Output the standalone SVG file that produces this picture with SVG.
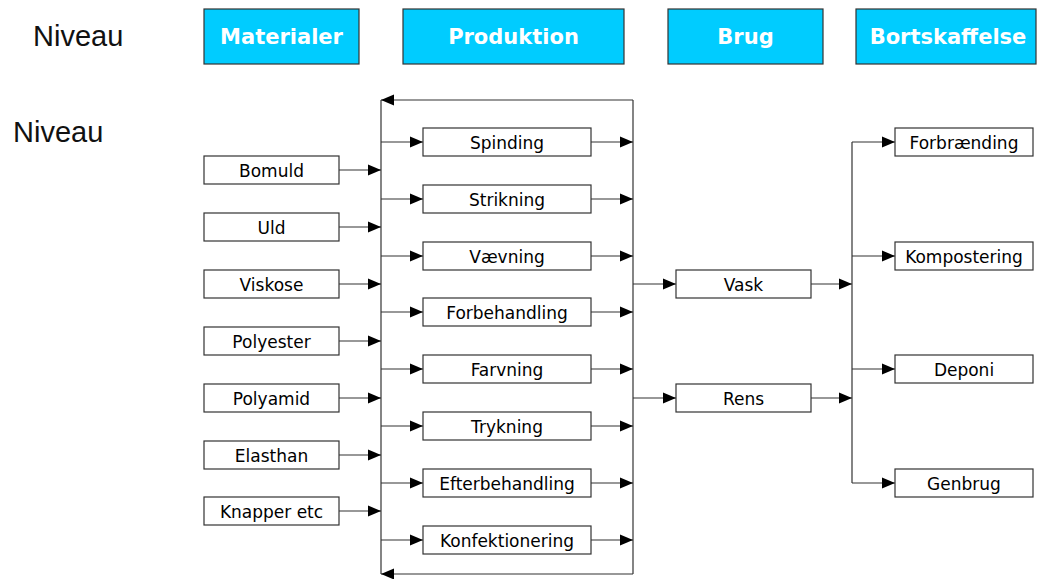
<svg xmlns="http://www.w3.org/2000/svg" width="1037" height="579" viewBox="0 0 1037 579">
<defs>
<marker id="ah" markerUnits="userSpaceOnUse" markerWidth="13" markerHeight="12" viewBox="0 0 13 12" refX="13" refY="6" orient="auto">
<path d="M0,0.5 L13,6 L0,11.5 Z" fill="#000"/>
</marker>
<style>
.hdr rect{fill:#00CCFF;stroke:#333;stroke-width:1.2}
.hdr text{font-family:"DejaVu Sans",sans-serif;font-weight:bold;font-size:21px;fill:#fff;text-anchor:middle}
.box rect{fill:#fff;stroke:#333;stroke-width:1.2}
.box text{font-family:"DejaVu Sans",sans-serif;font-size:17px;fill:#000;text-anchor:middle}
.lvl{font-family:"Liberation Sans",Arial,sans-serif;font-size:29px;fill:#111}
.c line,.c path{stroke:#333;stroke-width:1.2;fill:none}
.c .a{marker-end:url(#ah)}
</style>
</defs>
<text class="lvl" x="33" y="46">Niveau</text>
<text class="lvl" x="13" y="142">Niveau</text>
<g id="h-materialer" class="hdr"><rect x="204" y="9" width="155" height="55"/><text x="281.5" y="44">Materialer</text></g>
<g id="h-produktion" class="hdr"><rect x="403" y="9" width="221" height="55"/><text x="513.5" y="44">Produktion</text></g>
<g id="h-brug" class="hdr"><rect x="668" y="9" width="155" height="55"/><text x="745.5" y="44">Brug</text></g>
<g id="h-bortskaffelse" class="hdr"><rect x="856" y="9" width="180" height="55"/><text x="948" y="44">Bortskaffelse</text></g>
<g class="c" id="connectors">
<line x1="633" y1="100" x2="633" y2="574"/>
<line x1="381" y1="100" x2="381" y2="574"/>
<line class="a" x1="633" y1="100" x2="381" y2="100"/>
<line class="a" x1="633" y1="574" x2="381" y2="574"/>
<line class="a" x1="339" y1="170" x2="381" y2="170"/>
<line class="a" x1="339" y1="227" x2="381" y2="227"/>
<line class="a" x1="339" y1="284" x2="381" y2="284"/>
<line class="a" x1="339" y1="341" x2="381" y2="341"/>
<line class="a" x1="339" y1="398" x2="381" y2="398"/>
<line class="a" x1="339" y1="455" x2="381" y2="455"/>
<line class="a" x1="339" y1="511" x2="381" y2="511"/>
<line class="a" x1="381" y1="142" x2="423" y2="142"/>
<line class="a" x1="381" y1="199" x2="423" y2="199"/>
<line class="a" x1="381" y1="256" x2="423" y2="256"/>
<line class="a" x1="381" y1="312" x2="423" y2="312"/>
<line class="a" x1="381" y1="369" x2="423" y2="369"/>
<line class="a" x1="381" y1="426" x2="423" y2="426"/>
<line class="a" x1="381" y1="483" x2="423" y2="483"/>
<line class="a" x1="381" y1="540" x2="423" y2="540"/>
<line class="a" x1="591" y1="142" x2="633" y2="142"/>
<line class="a" x1="591" y1="199" x2="633" y2="199"/>
<line class="a" x1="591" y1="256" x2="633" y2="256"/>
<line class="a" x1="591" y1="312" x2="633" y2="312"/>
<line class="a" x1="591" y1="369" x2="633" y2="369"/>
<line class="a" x1="591" y1="426" x2="633" y2="426"/>
<line class="a" x1="591" y1="483" x2="633" y2="483"/>
<line class="a" x1="591" y1="540" x2="633" y2="540"/>
<line class="a" x1="633" y1="284" x2="676" y2="284"/>
<line class="a" x1="633" y1="398" x2="676" y2="398"/>
<line class="a" x1="811" y1="284" x2="852" y2="284"/>
<line class="a" x1="811" y1="398" x2="852" y2="398"/>
<line x1="852" y1="142" x2="852" y2="483"/>
<line class="a" x1="852" y1="142" x2="895" y2="142"/>
<line class="a" x1="852" y1="256" x2="895" y2="256"/>
<line class="a" x1="852" y1="369" x2="895" y2="369"/>
<line class="a" x1="852" y1="483" x2="895" y2="483"/>
</g>
<g id="bomuld" class="box"><rect x="204" y="156" width="135" height="28"/><text x="271.5" y="177">Bomuld</text></g>
<g id="uld" class="box"><rect x="204" y="213" width="135" height="28"/><text x="271.5" y="234">Uld</text></g>
<g id="viskose" class="box"><rect x="204" y="270" width="135" height="28"/><text x="271.5" y="291">Viskose</text></g>
<g id="polyester" class="box"><rect x="204" y="327" width="135" height="28"/><text x="271.5" y="348">Polyester</text></g>
<g id="polyamid" class="box"><rect x="204" y="384" width="135" height="28"/><text x="271.5" y="405">Polyamid</text></g>
<g id="elasthan" class="box"><rect x="204" y="441" width="135" height="28"/><text x="271.5" y="462">Elasthan</text></g>
<g id="knapper" class="box"><rect x="204" y="497" width="135" height="28"/><text x="271.5" y="518">Knapper etc</text></g>
<g id="spinding" class="box"><rect x="423" y="128" width="168" height="28"/><text x="507" y="149">Spinding</text></g>
<g id="strikning" class="box"><rect x="423" y="185" width="168" height="28"/><text x="507" y="206">Strikning</text></g>
<g id="vaevning" class="box"><rect x="423" y="242" width="168" height="28"/><text x="507" y="263">Vævning</text></g>
<g id="forbehandling" class="box"><rect x="423" y="298" width="168" height="28"/><text x="507" y="319">Forbehandling</text></g>
<g id="farvning" class="box"><rect x="423" y="355" width="168" height="28"/><text x="507" y="376">Farvning</text></g>
<g id="trykning" class="box"><rect x="423" y="412" width="168" height="28"/><text x="507" y="433">Trykning</text></g>
<g id="efterbehandling" class="box"><rect x="423" y="469" width="168" height="28"/><text x="507" y="490">Efterbehandling</text></g>
<g id="konfektionering" class="box"><rect x="423" y="526" width="168" height="28"/><text x="507" y="547">Konfektionering</text></g>
<g id="vask" class="box"><rect x="676" y="270" width="135" height="28"/><text x="743.5" y="291">Vask</text></g>
<g id="rens" class="box"><rect x="676" y="384" width="135" height="28"/><text x="743.5" y="405">Rens</text></g>
<g id="forbraending" class="box"><rect x="895" y="128" width="138" height="28"/><text x="964" y="149">Forbrænding</text></g>
<g id="kompostering" class="box"><rect x="895" y="242" width="138" height="28"/><text x="964" y="263">Kompostering</text></g>
<g id="deponi" class="box"><rect x="895" y="355" width="138" height="28"/><text x="964" y="376">Deponi</text></g>
<g id="genbrug" class="box"><rect x="895" y="469" width="138" height="28"/><text x="964" y="490">Genbrug</text></g>
</svg>
